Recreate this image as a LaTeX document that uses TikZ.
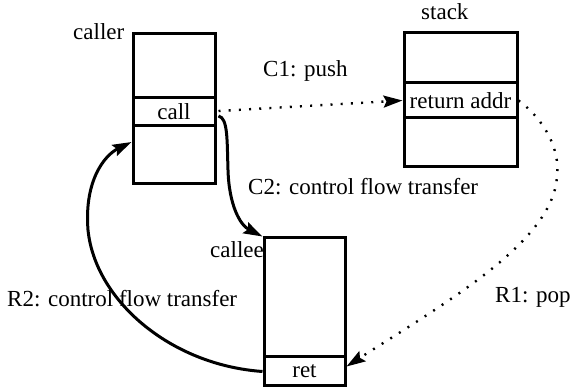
\documentclass[tikz,border=0pt]{standalone}
\usepackage{fontspec}
\setmainfont{Liberation Serif}
\usetikzlibrary{arrows.meta}
\begin{document}
\begin{tikzpicture}[x=1pt,y=-1pt,
  txt/.style={font=\fontsize{23}{26}\selectfont},
  cell/.style={draw,line width=3pt,minimum width=#1,inner sep=0pt,txt},
  lbl/.style={inner sep=0pt,anchor=base west,txt},
  tip/.style={-{Stealth[length=19pt,width=12pt,inset=3pt]}},
  flow/.style={line width=3pt,tip},
  dotflow/.style={line width=2.4pt,dash pattern=on 2pt off 8.2pt,tip}]
\useasboundingbox (0,0) rectangle (571,387);
% caller frame
\node[cell=82pt,minimum height=64pt] (callerA) at (174,66) {};
\node[cell=82pt,minimum height=28pt] (callcell) at (174,112) {call};
\node[cell=82pt,minimum height=58pt] (callerC) at (174,155) {};
% stack
\node[cell=113pt,minimum height=50pt] (stackA) at (460.5,58) {};
\node[cell=113pt,minimum height=35pt] (retaddr) at (460.5,100.5) {return addr};
\node[cell=113pt,minimum height=49pt] (stackC) at (460.5,142.5) {};
% callee frame
\node[cell=81pt,minimum height=119pt] (calleeA) at (304.5,297.5) {};
\node[cell=81pt,minimum height=29pt] (retcell) at (304.5,371.5) {ret};
% labels
\node[lbl] (callerlbl) at (73,40) {caller};
\node[lbl] (stacklbl) at (421,20) {stack};
\node[lbl] (calleelbl) at (210,258) {callee};
\node[lbl] (c1) at (263,77) {C1: push};
\node[lbl] (c2) at (248,195) {C2: control flow transfer};
\node[lbl] (r1) at (495,303) {R1: pop};
\node[lbl] (r2) at (7,307) {R2: control flow transfer};
% call: push the return address
\draw[dotflow] ([xshift=2pt,yshift=1pt]callcell.east) -- (retaddr.west);
% call: transfer control to the callee
\draw[flow] ([xshift=2pt,yshift=-4pt]callcell.east) .. controls (228,118) and (227,140) .. (228,170)
  .. controls (229,205) and (240,225) .. (calleeA.north west);
% return: pop the return address
\draw[dotflow] (retaddr.east) .. controls (545,120) and (560,150) .. (557,175)
  .. controls (555,240) and (450,300) .. ([yshift=5pt]retcell.east);
% return: transfer control back to the caller
\draw[flow] (retcell.west) .. controls (170,365) and (95,300) .. (88,230)
  .. controls (84,180) and (105,155) .. ([yshift=13pt]callerC.west);
\end{tikzpicture}
\end{document}
